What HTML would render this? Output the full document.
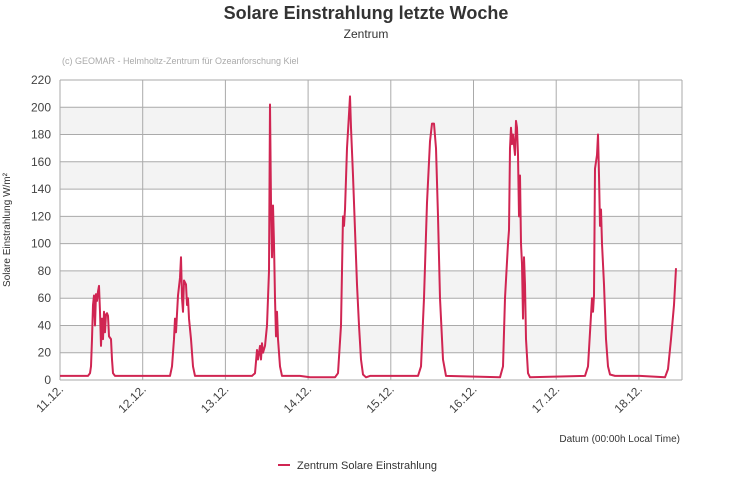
<!DOCTYPE html>
<html><head><meta charset="utf-8"><style>body{margin:0;background:#fff}svg{display:block;font-family:"Liberation Sans",sans-serif}</style></head><body>
<svg width="731" height="500" viewBox="0 0 731 500">
<text x="366" y="19" text-anchor="middle" font-size="18" font-weight="bold" fill="#333">Solare Einstrahlung letzte Woche</text>
<text x="366" y="38" text-anchor="middle" font-size="12" fill="#333">Zentrum</text>
<text x="62" y="64" font-size="9" fill="#aaa">(c) GEOMAR - Helmholtz-Zentrum für Ozeanforschung Kiel</text>
<g fill="#f3f3f3">
<rect x="60" y="107.3" width="622" height="27.3"/><rect x="60" y="161.8" width="622" height="27.3"/><rect x="60" y="216.4" width="622" height="27.3"/><rect x="60" y="270.9" width="622" height="27.3"/><rect x="60" y="325.5" width="622" height="27.3"/>
</g>
<g stroke="#aaa" stroke-width="1" id="grid"></g>
<g font-size="12" fill="#444" text-anchor="end" id="yl"></g>
<g font-size="12" fill="#444" id="xl"></g>
<text transform="translate(10,230) rotate(-90)" text-anchor="middle" font-size="10" fill="#333">Solare Einstrahlung W/m²</text>
<text x="680" y="442" text-anchor="end" font-size="10" fill="#333">Datum (00:00h Local Time)</text>
<polyline id="ser" fill="none" stroke="#d02552" stroke-width="2" stroke-linejoin="round"/>
<line x1="278" y1="465" x2="290" y2="465" stroke="#d02552" stroke-width="2"/>
<text x="297" y="469" font-size="11" fill="#333">Zentrum Solare Einstrahlung</text>
</svg>
<script>
var ns="http://www.w3.org/2000/svg";
function el(p,t,a,tx){var e=document.createElementNS(ns,t);for(var k in a)e.setAttribute(k,a[k]);if(tx!==undefined)e.textContent=String(tx);document.getElementById(p).appendChild(e);}
function Y(v){return 380-v*300/220;}
for(var v=0;v<=220;v+=20){var y=Y(v).toFixed(1);el("grid","line",{x1:60,x2:682,y1:y,y2:y});el("yl","text",{x:51,y:+y+4},v);}
var days=["11.12.","12.12.","13.12.","14.12.","15.12.","16.12.","17.12.","18.12."];
for(var i=0;i<8;i++){var x=60+i*82.7;el("grid","line",{x1:x,x2:x,y1:80,y2:380});el("xl","text",{transform:"translate("+(x+4)+",390) rotate(-45)","text-anchor":"end"},days[i]);}
el("grid","line",{x1:682,x2:682,y1:80,y2:380});
var d=[[60,3],[88,3],[90,5],[91,10],[92,30],[93,55],[94,62],[95,40],[96,63],[97,58],[98,65],[99,69],[100,50],[101,25],[102,45],[103,30],[104,50],[105,35],[106,48],[107,49],[108,47],[109,32],[111,30],[112,15],[113,5],[115,3],[170,3],[172,10],[174,30],[175,45],[176,35],[178,62],[180,75],[181,90],[182,60],[183,50],[184,73],[186,70],[187,55],[188,60],[189,45],[191,30],[193,10],[195,3],[252,3],[255,5],[257,22],[258,15],[260,25],[261,15],[262,27],[263,20],[265,25],[267,40],[269,80],[270,202],[271,130],[272,90],[273,128],[274,100],[275,60],[276,32],[277,50],[278,30],[280,10],[282,3],[300,3],[310,2],[335,2],[338,5],[341,40],[343,120],[344,113],[345,125],[347,170],[349,195],[350,208],[351,185],[353,150],[355,110],[357,70],[359,40],[361,15],[363,4],[366,2],[370,3],[418,3],[421,10],[424,60],[427,130],[430,175],[432,188],[434,188],[436,170],[438,120],[440,60],[443,15],[446,3],[500,2],[503,10],[505,60],[508,100],[509,110],[510,170],[511,185],[512,173],[513,180],[515,165],[516,190],[517,185],[518,165],[519,120],[520,150],[521,100],[522,85],[523,45],[524,90],[525,70],[526,30],[528,5],[530,2],[585,3],[588,10],[590,35],[592,60],[593,50],[594,62],[595,155],[597,165],[598,180],[599,150],[600,113],[601,125],[602,100],[604,70],[606,30],[608,10],[610,4],[615,3],[640,3],[665,2],[668,8],[671,30],[674,55],[676,82]];
document.getElementById("ser").setAttribute("points",d.map(function(p){return p[0]+","+Y(p[1]).toFixed(1)}).join(" "));
</script>
</body></html>
